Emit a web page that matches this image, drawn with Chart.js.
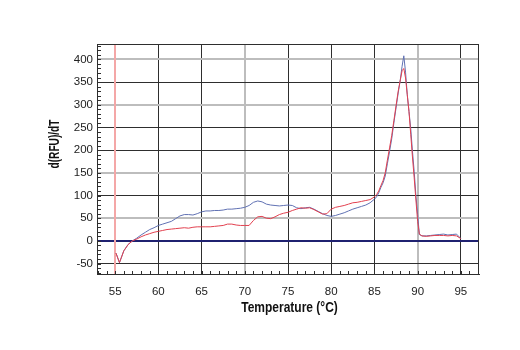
<!DOCTYPE html>
<html>
<head>
<meta charset="utf-8">
<script src="https://cdn.jsdelivr.net/npm/chart.js@4.4.1/dist/chart.umd.min.js"></script>
<style>
  html, body { margin: 0; padding: 0; background: #ffffff; }
  #wrap { width: 520px; height: 350px; }
</style>
</head>
<body>
<div id="wrap"><canvas id="melt" width="520" height="350"></canvas></div>
<script>
// Melt curve: temperature (°C) against d(RFU)/dT
const temps = [
  55.1,
  55.5, 56, 56.5, 57, 57.5, 58, 58.5, 59, 59.5, 60,
  60.5, 61, 61.5, 62, 62.5, 63, 63.5, 64, 64.5, 65,
  65.5, 66, 66.5, 67, 67.5, 68, 68.5, 69, 69.5, 70,
  70.5, 71, 71.5, 72, 72.5, 73, 73.5, 74, 74.5, 75,
  75.5, 76, 76.5, 77, 77.5, 78, 78.5, 79, 79.5, 80,
  80.5, 81, 81.5, 82, 82.5, 83, 83.5, 84, 84.5, 85,
  85.25, 85.5, 85.75, 86, 86.25, 86.5, 86.75, 87, 87.25, 87.5, 87.75, 88,
  88.2, 88.4, 88.6, 88.8, 89, 89.2, 89.4, 89.6, 89.8, 90, 90.2,
  90.5, 91, 91.5, 92, 92.5, 93, 93.5, 94, 94.5, 95
];

const blueTrace = [
  -27,
  -48, -22, -8, 0, 6, 13, 19, 25, 29, 34,
  37, 40, 43, 49, 55, 58, 58, 57, 60, 64,
  66, 66, 67, 67, 68, 70, 70, 71, 72, 74,
  78, 85, 88, 86, 81, 79, 78, 77, 78, 79,
  78, 73, 71, 73, 74, 70, 65, 60, 56, 54,
  56, 59, 62, 66, 70, 73, 76, 79, 84, 92,
  97, 106, 118, 128, 143, 170, 197, 225, 260, 293, 326, 356,
  385, 408, 372, 322, 285, 248, 198, 153, 100, 58, 14,
  11, 11, 12, 13, 14, 15, 13, 14, 15, 5
];

const redTrace = [
  -27,
  -48, -22, -8, 0, 4, 9, 13, 16, 19, 21,
  23, 25, 26, 27, 28, 29, 28, 30, 31, 31,
  31, 31, 32, 33, 34, 37, 37, 35, 34, 34,
  34, 45, 53, 54, 50, 49, 53, 58, 61, 63,
  67, 70, 73, 72, 73, 69, 64, 59, 60, 70,
  74, 76, 78, 81, 84, 85, 87, 89, 91, 97,
  102, 110, 122, 133, 150, 178, 205, 232, 265, 298, 330, 355,
  375, 380, 359, 322, 285, 235, 185, 139, 90, 43, 15,
  11, 10, 11, 12, 12, 12, 11, 12, 11, 5
];

const xTicks = [55, 60, 65, 70, 75, 80, 85, 90, 95];
const yTicks = [-50, 0, 50, 100, 150, 200, 250, 300, 350, 400];
const markerTemp = 55;
const xTitle = 'Temperature (°C)';
const yTitle = 'd(RFU)/dT';

const DARK = '#2e2e2e';
const PALE = '#bdbdbd';
const NAVY = '#1f2170';
const PALE_X = [70, 90];
const PALE_Y = [400, 300, 150, 50];

const titleFont = '"Liberation Sans", Arial, sans-serif';
const tickFont = '"Liberation Sans", Arial, sans-serif';

const toPoints = vals => temps.map((t, i) => ({ x: t, y: vals[i] }));

// Draw a bold caption squeezed horizontally (condensed look)
function condensedText(ctx, text, cx, cy, size, squeeze, angle) {
  ctx.save();
  ctx.fillStyle = '#111';
  ctx.font = 'bold ' + size + 'px ' + titleFont;
  ctx.textAlign = 'center';
  ctx.textBaseline = 'middle';
  ctx.translate(cx, cy);
  ctx.rotate(angle);
  ctx.scale(squeeze, 1);
  ctx.fillText(text, 0, 0);
  ctx.restore();
}

// Frame, minor ticks, marker line and axis captions
const decorations = {
  id: 'decorations',
  beforeDatasetsDraw(chart) {
    const { ctx, chartArea: a, scales: { x } } = chart;
    ctx.save();
    const mx = Math.round(x.getPixelForValue(markerTemp));
    ctx.strokeStyle = '#f4a7a7';
    ctx.lineWidth = 2;
    ctx.beginPath();
    ctx.moveTo(mx, a.top);
    ctx.lineTo(mx, a.bottom);
    ctx.stroke();
    ctx.restore();
  },
  afterDraw(chart) {
    const { ctx, chartArea: a, scales: { x, y } } = chart;
    ctx.save();
    ctx.strokeStyle = DARK;
    ctx.lineWidth = 1;
    ctx.strokeRect(a.left + 0.5, a.top + 0.5, a.right - a.left - 1, a.bottom - a.top);
    ctx.beginPath();
    // minor ticks on the left axis, every 10 units
    for (let v = Math.ceil(y.min / 10) * 10; v <= y.max; v += 10) {
      const py = Math.round(y.getPixelForValue(v)) + 0.5;
      ctx.moveTo(a.left, py);
      ctx.lineTo(a.left + 4, py);
    }
    // minor ticks on the bottom axis, every degree
    for (let t = Math.ceil(x.min); t <= x.max; t += 1) {
      const px = Math.round(x.getPixelForValue(t)) + 0.5;
      ctx.moveTo(px, a.bottom);
      ctx.lineTo(px, a.bottom - 3);
    }
    ctx.stroke();
    ctx.restore();

    const midX = (a.left + a.right) / 2;
    condensedText(ctx, xTitle, midX + 1.5, a.bottom + 34, 15, 0.8, 0);
    condensedText(ctx, yTitle, 55, a.top + 100, 14.5, 0.7, -Math.PI / 2);
  }
};

new Chart(document.getElementById('melt'), {
  type: 'line',
  data: {
    datasets: [
      {
        label: 'Sample B',
        data: toPoints(redTrace),
        borderColor: '#e2404f',
        borderWidth: 1,
        pointRadius: 0,
        tension: 0,
        fill: false
      },
      {
        label: 'Sample A',
        data: toPoints(blueTrace),
        borderColor: '#6071b3',
        borderWidth: 1,
        pointRadius: 0,
        tension: 0,
        fill: false
      }
    ]
  },
  options: {
    responsive: false,
    animation: false,
    devicePixelRatio: 1,
    layout: { padding: { top: 44, right: 41, left: 0, bottom: 0 } },
    plugins: {
      legend: { display: false },
      tooltip: { enabled: false }
    },
    scales: {
      x: {
        type: 'linear',
        min: 52.9,
        max: 97.1,
        afterFit(scale) { scale.height = 76; },
        afterBuildTicks(scale) { scale.ticks = xTicks.map(v => ({ value: v })); },
        border: { display: true, color: DARK, width: 1 },
        grid: {
          drawTicks: false,
          color: c => c.tick && c.tick.value === markerTemp ? 'rgba(0,0,0,0)'
            : (c.tick && PALE_X.includes(c.tick.value) ? PALE : DARK),
          lineWidth: c => c.tick && PALE_X.includes(c.tick.value) ? 2 : 1
        },
        ticks: {
          padding: 11,
          color: '#222',
          font: { family: tickFont, size: 11.5 },
          callback: v => String(v)
        },
        title: { display: false }
      },
      y: {
        type: 'linear',
        min: -73,
        max: 434,
        afterFit(scale) { scale.width = 97; },
        afterBuildTicks(scale) { scale.ticks = yTicks.map(v => ({ value: v })); },
        border: { display: true, color: DARK, width: 1 },
        grid: {
          drawTicks: false,
          color: c => !c.tick ? DARK : c.tick.value === 0 ? NAVY
            : (PALE_Y.includes(c.tick.value) ? PALE : DARK),
          lineWidth: c => c.tick && (c.tick.value === 0 || PALE_Y.includes(c.tick.value)) ? 2 : 1
        },
        ticks: {
          padding: 4,
          color: '#222',
          font: { family: tickFont, size: 11.5 },
          callback: v => String(v)
        },
        title: { display: false }
      }
    }
  },
  plugins: [decorations]
});
</script>
</body>
</html>
